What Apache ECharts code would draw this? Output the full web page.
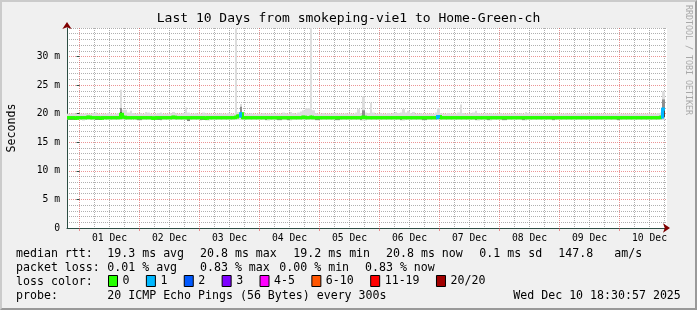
<!DOCTYPE html>
<html><head><meta charset="utf-8">
<script src="https://cdn.jsdelivr.net/npm/echarts@6/dist/echarts.min.js"></script>
<style>
html,body{margin:0;padding:0;background:#f0f0f0;}
#wrap{position:relative;width:697px;height:310px;}
#c{position:absolute;left:0;top:0;width:697px;height:310px;}
#frame{position:absolute;left:0;top:0;width:697px;height:310px;box-sizing:border-box;border-style:solid;border-width:2px;border-color:#cbcbcb #999999 #999999 #cbcbcb;pointer-events:none;}
</style></head>
<body><div id="wrap"><div id="c"></div><div id="frame"></div></div>
<script>
// ---------------- data (hours relative to 01 Dec 00:00, one value per hour) ----------------
const firstHour = -5;          // Nov 30 19:00
const lastHour = 235;          // Dec 10 19:00
const dayLabels = ['01 Dec','02 Dec','03 Dec','04 Dec','05 Dec','06 Dec','07 Dec','08 Dec','09 Dec','10 Dec'];
const yMaxMs = 35;

// upper edge of smoke (ms), hourly
const smokeHi = [
20.0,20.0,20.1,20.0,19.9,20.0,20.0,20.1,20.0,20.0,
20.1,20.2,20.0,19.9,20.0,20.0,20.1,20.0,19.9,20.0,
20.1,24.2,20.7,20.7,20.2,20.5,20.1,20.0,20.0,20.1,
20.0,20.3,20.2,20.0,19.9,20.0,20.1,20.2,20.0,20.0,
20.0,20.1,20.3,20.1,20.0,20.0,20.1,21.1,20.2,20.0,
20.0,20.1,20.0,20.0,20.2,20.1,20.0,20.0,19.9,20.0,
20.0,20.1,20.0,20.0,20.1,20.0,20.0,35.0,20.3,21.7,
20.2,20.0,20.0,20.1,20.0,19.9,20.0,20.0,20.1,20.0,
20.0,20.0,20.1,20.0,20.0,20.0,20.2,20.1,20.0,20.3,
20.1,20.0,20.2,20.4,20.6,21.0,21.0,35.0,20.6,20.1,
20.0,20.0,20.1,20.0,20.0,20.0,20.1,20.1,20.0,20.0,
20.0,20.1,20.0,20.0,20.0,20.2,20.8,20.1,23.0,20.2,
20.1,21.9,20.2,20.0,20.0,20.1,20.0,20.0,20.1,20.0,
20.1,20.3,20.1,20.2,20.8,20.2,20.5,20.1,20.3,20.0,
20.0,20.1,20.0,20.0,20.0,20.1,20.0,20.2,21.0,20.1,
20.0,20.0,20.1,20.0,20.0,20.0,20.2,21.6,20.1,20.0,
20.0,20.1,20.2,20.5,20.1,20.0,20.0,20.1,20.0,20.1,
20.0,20.0,20.0,20.1,20.0,20.0,20.0,20.0,20.1,20.0,
20.0,20.1,20.0,20.3,20.1,20.0,20.0,20.0,20.0,20.1,
20.0,20.0,20.0,20.1,20.0,20.0,20.0,20.0,20.0,20.1,
20.0,20.0,20.0,20.0,20.1,20.0,20.0,20.0,20.0,20.0,
20.0,20.1,20.0,20.0,20.0,20.0,20.0,20.0,20.0,20.0,
20.1,20.0,20.0,20.0,20.0,20.0,20.0,20.1,20.0,20.0,
20.0,20.0,20.0,20.0,20.0,20.0,20.1,20.2,23.9,null
];
// lower edge of smoke (ms), hourly
const smokeLo = [
18.9,18.9,18.9,19.0,18.9,18.9,18.8,18.9,18.9,18.9,
18.9,18.9,18.9,18.9,19.0,18.9,18.9,18.9,18.9,18.9,
18.9,18.9,18.9,18.9,18.9,18.9,19.0,18.9,18.8,18.8,
18.9,18.9,18.9,18.9,18.9,19.0,18.9,18.8,18.9,18.9,
18.9,18.9,18.9,18.9,18.9,18.9,18.9,18.9,18.7,18.9,
18.9,18.9,18.9,18.8,18.9,18.8,18.8,18.9,18.9,18.9,
18.9,18.9,18.9,18.9,18.9,18.9,18.9,18.9,18.9,18.9,
18.9,19.0,18.9,18.9,18.9,18.9,18.9,18.9,18.9,18.8,
18.8,18.9,18.9,18.9,18.8,18.8,18.9,18.9,18.8,18.8,
18.9,18.9,18.9,18.9,18.9,18.9,18.9,18.9,18.9,18.8,
18.8,18.9,18.9,18.9,18.9,18.9,18.9,18.8,18.8,18.9,
18.9,18.9,18.9,18.9,18.9,18.9,18.9,18.8,18.8,18.8,
18.9,18.9,18.9,18.9,18.9,18.9,18.9,18.9,18.9,18.9,
18.9,18.9,18.9,18.8,18.8,18.9,18.9,18.9,18.9,18.9,
18.9,18.9,18.8,18.8,18.9,18.9,18.9,18.9,18.9,18.9,
18.9,18.9,18.9,18.9,18.9,18.9,18.9,18.9,18.9,18.9,
18.9,18.9,18.9,18.8,18.8,18.9,18.9,18.9,18.8,18.8,
18.9,18.9,18.9,18.9,18.8,18.8,18.9,18.9,18.9,18.9,
18.9,18.9,18.8,18.8,18.9,18.9,18.9,18.9,18.9,18.9,
18.9,18.9,18.9,18.9,18.8,18.9,18.9,18.9,18.9,18.9,
18.9,18.9,18.9,18.9,18.9,18.9,18.9,18.9,18.9,18.9,
18.9,18.9,18.9,18.9,18.9,18.9,18.9,18.9,18.9,18.9,
18.8,18.9,18.9,18.9,18.9,18.9,18.9,18.9,18.9,18.9,
18.9,18.9,18.9,18.9,18.9,18.9,18.9,18.9,18.9,null
];
// median rtt (ms), hourly
const median = [
19.3,19.3,19.3,19.2,19.3,19.3,19.3,19.3,19.4,19.3,
19.3,19.3,19.3,19.2,19.3,19.3,19.3,19.3,19.3,19.3,
19.3,19.9,19.4,19.3,19.3,19.3,19.3,19.3,19.3,19.3,
19.3,19.3,19.3,19.3,19.2,19.3,19.3,19.3,19.3,19.3,
19.3,19.3,19.4,19.3,19.3,19.3,19.3,19.3,19.3,19.3,
19.3,19.3,19.3,19.3,19.3,19.2,19.3,19.3,19.3,19.3,
19.3,19.3,19.3,19.3,19.3,19.3,19.3,19.4,19.6,20.0,
19.3,19.3,19.3,19.3,19.3,19.3,19.3,19.3,19.3,19.3,
19.3,19.3,19.3,19.3,19.3,19.3,19.3,19.3,19.3,19.3,
19.3,19.3,19.3,19.3,19.4,19.3,19.3,19.4,19.3,19.3,
19.3,19.3,19.3,19.3,19.3,19.3,19.3,19.3,19.3,19.3,
19.3,19.3,19.3,19.3,19.3,19.3,19.3,19.3,19.4,19.3,
19.3,19.3,19.3,19.3,19.3,19.3,19.3,19.3,19.3,19.3,
19.3,19.3,19.3,19.3,19.3,19.3,19.3,19.3,19.3,19.3,
19.3,19.3,19.3,19.3,19.3,19.3,19.3,19.3,19.5,19.3,
19.3,19.3,19.3,19.3,19.3,19.3,19.3,19.3,19.3,19.3,
19.3,19.3,19.3,19.3,19.3,19.3,19.3,19.3,19.3,19.3,
19.3,19.3,19.3,19.3,19.3,19.3,19.3,19.3,19.3,19.3,
19.3,19.3,19.3,19.3,19.3,19.3,19.3,19.3,19.3,19.3,
19.3,19.3,19.3,19.3,19.3,19.3,19.3,19.3,19.3,19.3,
19.3,19.3,19.3,19.3,19.3,19.3,19.3,19.3,19.3,19.3,
19.3,19.3,19.3,19.3,19.3,19.3,19.3,19.3,19.3,19.3,
19.3,19.3,19.3,19.3,19.3,19.3,19.3,19.3,19.3,19.3,
19.3,19.3,19.3,19.3,19.3,19.3,19.3,19.4,20.8,null
];
// hours (index) with lost pings: [hourIndex, lost pings]
const lossEvents = [[69, 1], [148, 1], [238, 1]];
// darker smoke patches: [hourIndex, lo, hi]
const midSmoke = [
[0,18.9,19.1],[1,18.9,19.1],[2,18.9,19.1],[11,18.9,19.1],[12,18.9,19.1],[21,19.4,21.0],
[28,18.9,19.1],[29,18.9,19.1],[36,18.9,19.1],[37,18.9,19.1],[53,18.9,19.1],[54,18.9,19.1],
[55,18.9,19.1],[69,19.4,21.2],[79,18.9,19.1],[84,18.9,19.1],[85,18.9,19.1],[88,18.9,19.1],
[99,18.9,19.1],[100,18.9,19.1],[107,18.9,19.1],[108,18.9,19.1],[117,18.9,19.1],[118,19.4,20.6],
[133,18.9,19.1],[142,18.9,19.1],[143,18.9,19.1],[163,18.9,19.1],[168,18.9,19.1],[174,18.9,19.1],
[175,18.9,19.1],[182,18.9,19.1],[194,18.9,19.1],[220,18.9,19.1],[238,19.4,22.5]
];
const coreSmoke = [[21,19.4,20.3],[48,18.8,19.0],[69,19.4,20.2],[238,19.4,21.0]];
// loss colour classes
const lossLabels = ['0','1','2','3','4-5','6-10','11-19','20/20'];
const lossUpper  = [0, 1, 2, 3, 5, 10, 19, 20];
const lossColors = ['#26ff00','#00b8ff','#0059ff','#7e00ff','#ff00ff','#ff5500','#ff0000','#a10000'];
// statistics texts
const titleText = 'Last 10 Days from smokeping-vie1 to Home-Green-ch';
const rttHead = 'median rtt:';
const rttStats = ['19.3 ms avg','20.8 ms max','19.2 ms min','20.8 ms now','0.1 ms sd','147.8','am/s'];
const lossHead = 'packet loss:';
const lossStats = ['0.01 % avg','0.83 % max','0.00 % min','0.83 % now'];
const colorHead = 'loss color:';
const probeHead = 'probe:';
const probeText = '20 ICMP Echo Pings (56 Bytes) every 300s';
const stampText = 'Wed Dec 10 18:30:57 2025';
const watermark = 'RRDTOOL / TOBI OETIKER';

// ---------------- derived ----------------
const MONO = '"DejaVu Sans Mono", monospace';
const hourMarks = [];
for (let h = firstHour; h <= lastHour; h++) hourMarks.push(String(h));
const yMarks = [];
for (let v = 0; v <= yMaxMs; v++) yMarks.push(String(v));

const lossAt = {};
lossEvents.forEach(([i, l]) => { lossAt[i] = l; });
function lossClass(l) { for (let k = 0; k < lossUpper.length; k++) if (l <= lossUpper[k]) return k; return lossUpper.length - 1; }

const smokeData = [];
smokeHi.forEach((hi, i) => { if (hi != null && smokeLo[i] != null) smokeData.push([firstHour + i, smokeLo[i], hi]); });
const midData = midSmoke.map(([i, lo, hi]) => [firstHour + i, lo, hi]);
const coreData = coreSmoke.map(([i, lo, hi]) => [firstHour + i, lo, hi]);
const medianByClass = lossLabels.map(() => []);
median.forEach((v, i) => {
  if (v == null) return;
  const prev = (i > 0 && median[i - 1] != null) ? median[i - 1] : v;
  medianByClass[lossClass(lossAt[i] || 0)].push([firstHour + i, v, prev]);
});

// ---------------- render helpers ----------------
function renderBand(params, api) {
  const h = api.value(0), lo = api.value(1), hi = api.value(2);
  const a = api.coord([h, lo]), b = api.coord([h + 1, hi]);
  const x0 = Math.round(a[0]), x1 = Math.round(b[0]);
  return { type: 'rect', shape: { x: x0, y: b[1], width: x1 - x0, height: a[1] - b[1] }, style: { fill: api.visual('color') } };
}
function renderMedian(params, api) {
  const h = api.value(0), v = api.value(1), prev = api.value(2);
  const a = api.coord([h, v]), b = api.coord([h + 1, v]), p = api.coord([h, prev]);
  const x0 = Math.round(a[0]), x1 = Math.round(b[0]);
  const color = api.visual('color');
  const top = Math.min(p[1], a[1]) - 1.5, bot = Math.max(p[1], a[1]) + 1.5;
  return { type: 'group', children: [
    { type: 'rect', shape: { x: x0, y: a[1] - 1.5, width: x1 - x0, height: 3 }, style: { fill: color } },
    { type: 'rect', shape: { x: x0 - 1, y: top, width: 3, height: bot - top }, style: { fill: color } }
  ] };
}

const GRAY = 'rgba(143,143,143,0.7)';
const RED = 'rgba(222,79,79,0.6)';
const AXIS = '#2C4D43';
const ARROW = '#7F0000';

const series = [
  { type: 'custom', name: 'smoke', renderItem: renderBand, data: smokeData, encode: { x: 0, y: [1, 2] }, itemStyle: { color: '#dddddd' }, clip: true, silent: true },
  { type: 'custom', name: 'smoke2', renderItem: renderBand, data: midData, encode: { x: 0, y: [1, 2] }, itemStyle: { color: '#8e8e8e' }, clip: true, silent: true },
  { type: 'custom', name: 'smoke3', renderItem: renderBand, data: coreData, encode: { x: 0, y: [1, 2] }, itemStyle: { color: '#454545' }, clip: true, silent: true }
];
lossLabels.forEach((name, k) => {
  series.push({ type: 'custom', name: name, renderItem: renderMedian, data: medianByClass[k], encode: { x: 0, y: 1 }, itemStyle: { color: lossColors[k] }, clip: true, silent: true });
});

function txt(x, y, s) {
  return { type: 'text', x: x, y: y, silent: true,
    style: { text: s, font: '11.6px ' + MONO, fill: '#000', textAlign: 'left', textVerticalAlign: 'middle' } };
}
const rttX = [107.3, 200, 293.3, 386, 479.3, 558.3, 614.3];
const lossX = [107.3, 200, 279.3, 365];
const rowY = [254.3, 268.3, 282.3, 296];
const graphics = [
  txt(16, rowY[0], rttHead), ...rttStats.map((s, k) => txt(rttX[k], rowY[0], s)),
  txt(16, rowY[1], lossHead), ...lossStats.map((s, k) => txt(lossX[k], rowY[1], s)),
  txt(16, rowY[2], colorHead),
  txt(16, rowY[3], probeHead), txt(107.3, rowY[3], probeText), txt(513.3, rowY[3], stampText),
  { type: 'text', x: 688, y: 5, rotation: -Math.PI / 2, silent: true,
    style: { text: watermark, font: '8.3px ' + MONO, fill: '#a8a8a8', textAlign: 'left', textVerticalAlign: 'middle' } }
];

const isDay = v => (+v) % 24 === 0;
const isSix = v => (+v) % 6 === 0 && (+v) % 24 !== 0;
const isNoon = v => (+v) % 24 === 12;
const isMajorY = v => (+v) % 5 === 0 && (+v) < yMaxMs;
const isMinorY = v => (+v) % 5 !== 0 || (+v) === yMaxMs;

const chart = echarts.init(document.getElementById('c'), null, { renderer: 'canvas' });
chart.setOption({
  animation: false,
  backgroundColor: 'transparent',
  textStyle: { fontFamily: MONO },
  title: { text: titleText, left: 'center', top: 12, padding: 0,
    textStyle: { fontFamily: MONO, fontSize: 13, fontWeight: 'normal', color: '#000' } },
  grid: { left: 67, top: 28, width: 600, height: 200, show: true, backgroundColor: '#ffffff', borderWidth: 0,
    containLabel: false, outerBoundsMode: 'none' },
  legend: { data: lossLabels, left: 108, top: 275, padding: 0, itemWidth: 9, itemHeight: 11, itemGap: 16.4, icon: 'rect', selectedMode: false,
    itemStyle: { borderColor: '#000', borderWidth: 1 },
    textStyle: { fontFamily: MONO, fontSize: 11.6, color: '#000' } },
  xAxis: [
    { type: 'value', min: firstHour, max: lastHour, position: 'bottom',
      axisLine: { show: true, onZero: false, lineStyle: { color: AXIS, width: 1 } },
      axisTick: { show: false }, axisLabel: { show: false }, splitLine: { show: false } },
    { type: 'category', data: hourMarks, boundaryGap: false, position: 'bottom',
      axisLine: { show: false }, axisTick: { show: false },
      axisLabel: { show: true, interval: (i, v) => isNoon(v), margin: 5, fontFamily: MONO, fontSize: 9.7, color: '#000',
        formatter: v => dayLabels[Math.round((+v - 12) / 24)] || '' },
      splitLine: { show: true, interval: (i, v) => isSix(v), lineStyle: { color: GRAY, type: [1, 1], width: 1 } } },
    { type: 'category', data: hourMarks, boundaryGap: false, position: 'bottom',
      axisLine: { show: true, onZero: false, symbol: ['none', 'arrow'], symbolSize: [7, 7], symbolOffset: [0, 3], lineStyle: { color: ARROW, width: 0 } },
      axisTick: { show: true, interval: (i, v) => isDay(v), length: 3, lineStyle: { color: RED } },
      axisLabel: { show: false },
      splitLine: { show: true, interval: (i, v) => isDay(v), lineStyle: { color: RED, type: [1, 1], width: 1 } } }
  ],
  yAxis: [
    { type: 'value', min: 0, max: yMaxMs, position: 'left',
      axisLine: { show: true, onZero: false, lineStyle: { color: AXIS, width: 1 } },
      axisTick: { show: false }, axisLabel: { show: false }, splitLine: { show: false } },
    { type: 'category', data: yMarks, boundaryGap: false, position: 'left',
      axisLine: { show: true, onZero: false, symbol: ['none', 'arrow'], symbolSize: [7, 7], symbolOffset: [0, 6], lineStyle: { color: ARROW, width: 0 } },
      axisTick: { show: false }, axisLabel: { show: false },
      splitLine: { show: true, interval: (i, v) => isMinorY(v), lineStyle: { color: GRAY, type: [1, 1], width: 1 } } },
    { type: 'category', data: yMarks, boundaryGap: false, position: 'left',
      name: 'Seconds', nameLocation: 'middle', nameGap: 49, nameRotate: 90,
      nameTextStyle: { fontFamily: MONO, fontSize: 11.6, color: '#000' },
      axisLine: { show: false },
      axisTick: { show: true, interval: (i, v) => isMajorY(v), length: 3, lineStyle: { color: AXIS } },
      axisLabel: { show: true, interval: (i, v) => isMajorY(v), margin: 7, fontFamily: MONO, fontSize: 9.7, color: '#000',
        formatter: v => (+v === 0 ? '0' : v + ' m') },
      splitLine: { show: true, interval: (i, v) => isMajorY(v), lineStyle: { color: RED, type: [1, 1], width: 1 } } }
  ],
  series: series,
  graphic: graphics
});
</script></body></html>
